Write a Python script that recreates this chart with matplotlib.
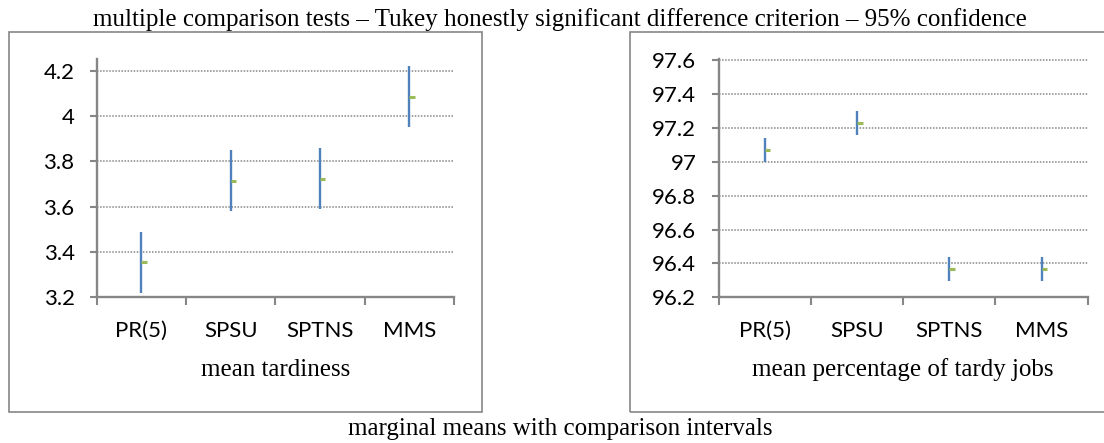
import matplotlib.pyplot as plt
from matplotlib.patches import Rectangle

# marginal means with comparison intervals (Tukey HSD, 95%)
rules = ["PR(5)", "SPSU", "SPTNS", "MMS"]

tard_mean = [3.355, 3.714, 3.724, 4.084]
tard_low = [3.221, 3.580, 3.590, 3.950]
tard_high = [3.488, 3.849, 3.859, 4.219]
tard_ticks = [3.2, 3.4, 3.6, 3.8, 4.0, 4.2]
tard_ticklabels = ["3.2", "3.4", "3.6", "3.8", "4", "4.2"]

pct_mean = [97.071, 97.232, 96.369, 96.369]
pct_low = [97.002, 97.162, 96.298, 96.298]
pct_high = [97.142, 97.303, 96.440, 96.440]
pct_ticks = [96.2, 96.4, 96.6, 96.8, 97.0, 97.2, 97.4, 97.6]
pct_ticklabels = ["96.2", "96.4", "96.6", "96.8", "97", "97.2", "97.4", "97.6"]

W, H = 1104, 443
GRAY = "#868686"
BLUE = "#4f81bd"
GREEN = "#9bbb59"
SERIF = "Liberation Serif"
SANS = "Lato"

fig = plt.figure(figsize=(W / 100, H / 100), dpi=100)


def px(x0, y0, x1, y1):
    # pixel box (top-left origin) -> figure fractions
    return [x0 / W, 1 - y1 / H, (x1 - x0) / W, (y1 - y0) / H]


def panel(rect, low, high, mean, ticks, ticklabels, ylim, xlabel):
    ax = fig.add_axes(rect)
    x = list(range(1, len(rules) + 1))
    ax.set_xlim(0.5, len(rules) + 0.5)
    ax.set_ylim(*ylim)

    # dotted gridlines, none on the bottom axis line
    for t in ticks[1:]:
        ax.axhline(t, color=GRAY, lw=1.1, ls=(0, (1, 1)), zorder=1)

    ax.vlines(x, low, high, color=BLUE, lw=1.7, zorder=3)
    ax.hlines(mean, x, [v + 0.06 for v in x], color=GREEN, lw=2.2, zorder=4)

    for s in ["top", "right"]:
        ax.spines[s].set_visible(False)
    for s in ["left", "bottom"]:
        ax.spines[s].set_color(GRAY)
        ax.spines[s].set_linewidth(1.7)

    ax.set_yticks(ticks)
    ax.set_yticklabels(ticklabels, fontfamily=SANS, fontsize=16)
    ax.tick_params(axis="y", length=5, width=1.5, color=GRAY, pad=11)

    ax.set_xticks([v + 0.5 for v in range(len(rules) + 1)])
    ax.set_xticklabels([])
    ax.tick_params(axis="x", which="major", length=5.5, width=1.5, color=GRAY)
    ax.set_xticks(x, minor=True)
    ax.set_xticklabels(rules, minor=True, fontfamily=SANS, fontsize=16)
    ax.tick_params(axis="x", which="minor", length=0, pad=17)

    bb = ax.get_position()
    fig.text(bb.x0 + bb.width / 2, 1 - 375.7 / H, xlabel, ha="center",
             va="baseline", fontfamily=SERIF, fontsize=18)
    return ax


# outer frames around each chart
fig.patches.append(Rectangle((8.5 / W, 1 - 412.3 / H), (481.6 - 8.5) / W,
                             (412.3 - 32.3) / H, transform=fig.transFigure,
                             fill=False, ec=GRAY, lw=1.2))
fig.patches.append(Rectangle((630 / W, 1 - 412.3 / H), (1120 - 630) / W,
                             (412.3 - 32.3) / H, transform=fig.transFigure,
                             fill=False, ec=GRAY, lw=1.2, clip_on=False))

panel(px(96.8, 59.3, 454.1, 297.3), tard_low, tard_high, tard_mean,
      tard_ticks, tard_ticklabels, (3.2, 4.25), "mean tardiness")
panel(px(718.5, 58.7, 1087.8, 297.3), pct_low, pct_high, pct_mean,
      pct_ticks, pct_ticklabels, (96.2, 97.61), "mean percentage of tardy jobs")

fig.text(560 / W, 1 - 26 / H,
         "multiple comparison tests \u2013 Tukey honestly significant difference criterion \u2013 95% confidence",
         ha="center", va="baseline", fontfamily=SERIF, fontsize=18)
fig.text(560 / W, 1 - 435 / H, "marginal means with comparison intervals",
         ha="center", va="baseline", fontfamily=SERIF, fontsize=18)

fig.savefig("out.png", dpi=100)
